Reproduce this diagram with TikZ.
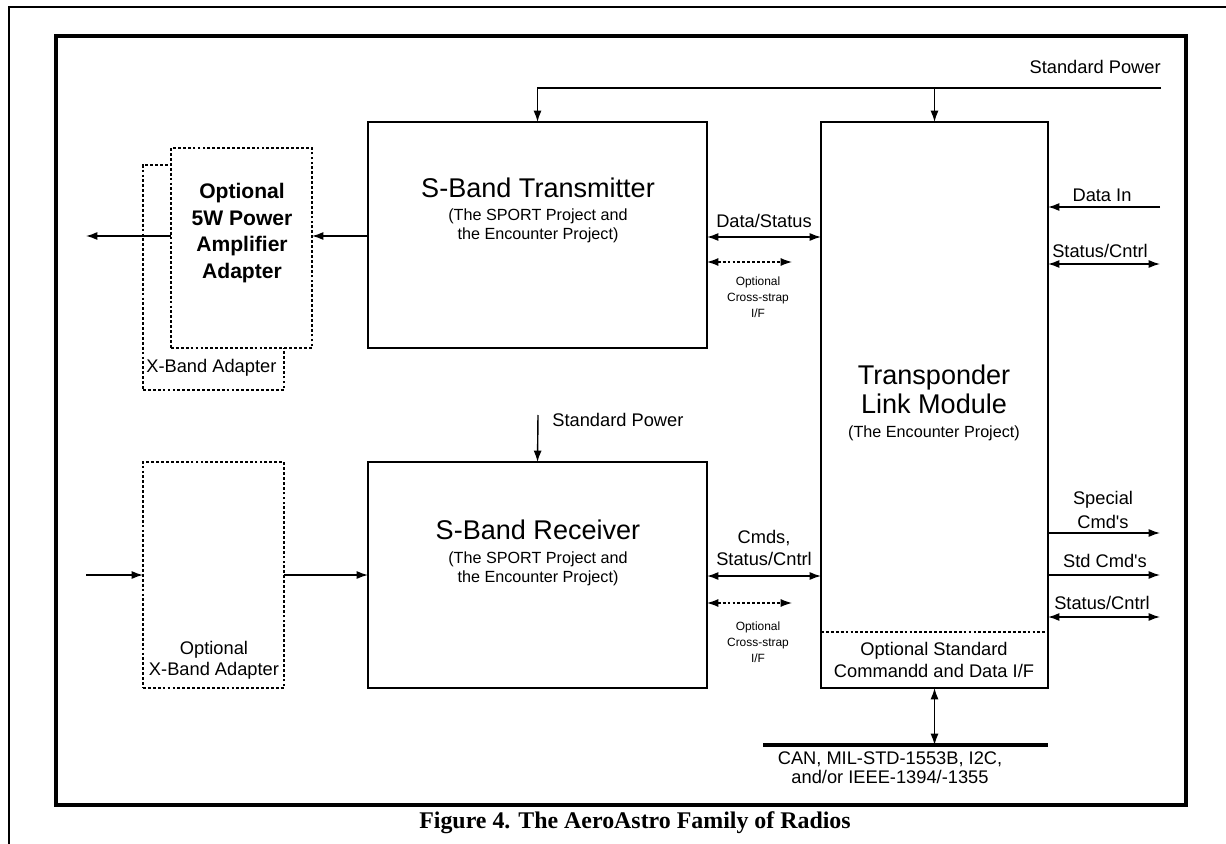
\documentclass[tikz,border=0pt]{standalone}
\usepackage{fontspec}
\setmainfont{Liberation Sans}[Ligatures=TeXOff]
\newfontfamily\capfont{Liberation Serif}
\usetikzlibrary{arrows.meta, fit}

\begin{document}
\begin{tikzpicture}[x=0.02cm, y=-0.02cm,
    box/.style={draw, line width=0.8pt, inner sep=0pt, outer sep=0pt},
    optbox/.style={draw, line width=0.7pt, dash pattern=on 1.6pt off 1.2pt, fill=white, inner sep=0pt, outer sep=0pt},
    arr/.style={line width=0.8pt, -{Latex[length=6.5pt, width=4.6pt]}},
    dbl/.style={line width=0.8pt, {Latex[length=6.5pt, width=4.6pt]}-{Latex[length=6.5pt, width=4.6pt]}},
    optline/.style={line width=0.7pt, dash pattern=on 1.6pt off 1.2pt},
    lbl/.style={font=\fontsize{10.4}{12}\selectfont, inner sep=0pt, align=center},
    tiny/.style={font=\fontsize{6.8}{9.2}\selectfont, inner sep=0pt, align=center},
    sub/.style={font=\fontsize{9.2}{10.8}\selectfont, inner sep=0pt, align=center},
    big/.style={font=\fontsize{15.4}{16.5}\selectfont, inner sep=0pt, align=center},
  ]
  \useasboundingbox (0,0) rectangle (1226,844);
  \draw[line width=1pt] (9,844) -- (9,7) -- (1226,7);
  \draw[line width=2pt] (56,36) rectangle (1186,805);

  \node[box, fit={(368,122) (707,348)}] (tx) {};
  \node[box, fit={(368,462) (707,688)}] (rx) {};
  \node[box, fit={(821,122) (1048,688)}] (tlm) {};
  \node[optbox, fit={(143,165) (284,390)}] (xbk) {};
  \node[optbox, fit={(171,148) (312,348)}] (pa) {};
  \node[optbox, fit={(143,462) (284,688)}] (xlo) {};

  \node[big] (txname) at (538,188) {S-Band Transmitter};
  \node[sub] (txsub) at (538,226) {(The SPORT Project and\\the Encounter Project)};
  \node[big] (rxname) at (538,530) {S-Band Receiver};
  \node[sub] (rxsub) at (538,569) {(The SPORT Project and\\the Encounter Project)};
  \node[big] (tlmname) at (934,389) {Transponder\\Link Module};
  \node[sub] (tlmsub) at (934,433) {(The Encounter Project)};
  \node[font=\bfseries\fontsize{12}{15.2}\selectfont, inner sep=0pt, align=center] (paname) at (242,233) {Optional\\5W Power\\Amplifier\\Adapter};
  \node[lbl, anchor=west] (xbkname) at (146,368) {X-Band Adapter};
  \node[lbl] (xloname) at (214,660) {Optional\\X-Band Adapter};

  \coordinate (pwrend) at (1161,88);
  \draw[arr] (pwrend) -- (tx.north |- pwrend) -- (tx.north);
  \draw[arr] (tlm.north |- pwrend) -- (tlm.north);
  \node[lbl, anchor=base east] (pwrlbl) at (1161,74) {Standard Power};
  \coordinate (rxpwr) at (538,415);
  \draw[arr] (rxpwr) -- (rx.north);
  \node[lbl, anchor=base west] (rxpwrlbl) at (552,426) {Standard Power};

  \coordinate (paout) at (86,236);
  \draw[arr] (tx.west |- paout) -- (pa.east |- paout);
  \draw[arr] (pa.west |- paout) -- (paout);
  \coordinate (xin) at (86,575);
  \draw[arr] (xin) -- (xlo.west |- xin);
  \draw[arr] (xlo.east |- xin) -- (rx.west |- xin);

  \coordinate (dsrow) at (0,237);
  \draw[dbl] (tx.east |- dsrow) -- (tlm.west |- dsrow);
  \node[lbl] (dslbl) at (764,221) {Data/Status};
  \coordinate (xs1) at (792,262);
  \draw[dbl, optline] (tx.east |- xs1) -- (xs1);
  \node[tiny] (xs1lbl) at (758,297) {Optional\\Cross-strap\\I/F};
  \coordinate (cmrow) at (0,576);
  \draw[dbl] (rx.east |- cmrow) -- (tlm.west |- cmrow);
  \node[lbl] (cmlbl) at (764,548) {Cmds,\\Status/Cntrl};
  \coordinate (xs2) at (792,603);
  \draw[dbl, optline] (rx.east |- xs2) -- (xs2);
  \node[tiny] (xs2lbl) at (758,642) {Optional\\Cross-strap\\I/F};

  \coordinate (datain) at (1160,207);
  \draw[arr] (datain) -- (tlm.east |- datain);
  \node[lbl] (dilbl) at (1102,195) {Data In};
  \coordinate (sc1) at (1160,264);
  \draw[dbl] (tlm.east |- sc1) -- (sc1);
  \node[lbl] (sc1lbl) at (1100,251) {Status/Cntrl};
  \coordinate (spc) at (1160,533);
  \draw[arr] (tlm.east |- spc) -- (spc);
  \node[lbl, font=\fontsize{10.4}{13.6}\selectfont] (spclbl) at (1103,510) {Special\\Cmd's};
  \coordinate (std) at (1160,575);
  \draw[arr] (tlm.east |- std) -- (std);
  \node[lbl] (stdlbl) at (1105,561) {Std Cmd's};
  \coordinate (sc2) at (1160,617);
  \draw[dbl] (tlm.east |- sc2) -- (sc2);
  \node[lbl] (sc2lbl) at (1102,603) {Status/Cntrl};

  \coordinate (optrow) at (0,632);
  \draw[optline] (tlm.west |- optrow) -- (tlm.east |- optrow);
  \node[lbl, font=\fontsize{10.4}{12.5}\selectfont] (ifname) at (934,660) {Optional Standard\\Commandd and Data I/F};

  \coordinate (busl) at (763,745);
  \coordinate (busr) at (1048,745);
  \draw[line width=2.3pt] (busl) -- (busr);
  \draw[dbl] (tlm.south) -- (tlm.south |- busl);
  \node[lbl, font=\fontsize{10.4}{10.6}\selectfont] (buslbl) at (890,768) {CAN, MIL-STD-1553B, I2C,\\and/or IEEE-1394/-1355};

  \node[font=\capfont\bfseries\fontsize{13.6}{15}\selectfont, inner sep=0pt] (cap) at (635,823) {Figure 4. The AeroAstro Family of Radios};
\end{tikzpicture}
\end{document}
